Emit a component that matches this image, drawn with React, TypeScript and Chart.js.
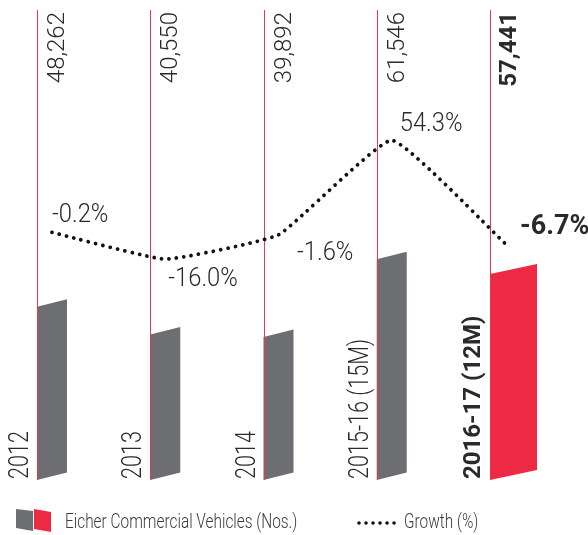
import { useEffect, useRef } from "react";
import { Chart, registerables } from "chart.js";

Chart.register(...registerables);

// ---- data ----
const categories = ["2012", "2013", "2014", "2015-16 (15M)", "2016-17 (12M)"];
const volumes = [48262, 40550, 39892, 61546, 57441];
const volumeLabels = ["48,262", "40,550", "39,892", "61,546", "57,441"];
const growth = [-0.2, -16.0, -1.6, 54.3, -6.7];
const growthLabels = ["-0.2%", "-16.0%", "-1.6%", "54.3%", "-6.7%"];
const highlightIndex = 4;
const legendLabels = ["Eicher Commercial Vehicles (Nos.)", "Growth (%)"];

// ---- styles ----
const GREY = "#6d6e71";
const RED = "#ee2944";
const LINE_RED = "#e8384f";
const TEXT = "#2a2a2a";
const FONT = "Roboto, 'Liberation Sans', sans-serif";
const growthLabelOffsets = [
  [0, -10],
  [3, 27],
  [18.5, 25],
  [8, -9],
  [15, -9],
];

function drawVertical(
  ctx: CanvasRenderingContext2D,
  text: string,
  x: number,
  y: number,
  font: string,
  align: CanvasTextAlign,
  sx = 1
) {
  ctx.save();
  ctx.translate(x, y);
  ctx.rotate(-Math.PI / 2);
  ctx.scale(sx, 1);
  ctx.font = font;
  ctx.textAlign = align;
  ctx.textBaseline = "alphabetic";
  ctx.fillStyle = TEXT;
  ctx.fillText(text, 0, 0);
  ctx.restore();
}

function drawScaled(
  ctx: CanvasRenderingContext2D,
  text: string,
  x: number,
  y: number,
  font: string,
  sx = 1,
  color = TEXT
) {
  ctx.save();
  ctx.translate(x, y);
  ctx.scale(sx, 1);
  ctx.font = font;
  ctx.textAlign = "left";
  ctx.textBaseline = "alphabetic";
  ctx.fillStyle = color;
  ctx.fillText(text, 0, 0);
  ctx.restore();
}

const eicherPlugin = {
  id: "eicherPlugin",
  beforeDatasetsDraw(chart: any) {
    const ctx: CanvasRenderingContext2D = chart.ctx;
    const area = chart.chartArea;
    const meta = chart.getDatasetMeta(0);
    meta.data.forEach((el: any, i: number) => {
      const { x, y, base } = el.getProps(["x", "y", "base"], true);
      const hi = i === highlightIndex;
      const w = hi ? 47 : 30;
      const skew = hi ? 10 : 7.5;
      const left = x - 15;
      ctx.save();
      ctx.fillStyle = hi ? RED : GREY;
      ctx.beginPath();
      ctx.moveTo(left, base);
      ctx.lineTo(left, y);
      ctx.lineTo(left + w, y - skew);
      ctx.lineTo(left + w, base - skew);
      ctx.closePath();
      ctx.fill();
      const lx = Math.round(left) + 0.5;
      ctx.strokeStyle = LINE_RED;
      ctx.lineWidth = 1;
      ctx.beginPath();
      ctx.moveTo(lx, area.top);
      ctx.lineTo(lx, base);
      ctx.stroke();
      ctx.restore();
    });
  },
  afterDatasetsDraw(chart: any) {
    const ctx: CanvasRenderingContext2D = chart.ctx;
    const area = chart.chartArea;
    const meta = chart.getDatasetMeta(0);
    meta.data.forEach((el: any, i: number) => {
      const { x, base } = el.getProps(["x", "base"], true);
      const hi = i === highlightIndex;
      const lx = Math.round(x - 15) + 0.5;
      drawVertical(
        ctx,
        volumeLabels[i],
        lx + (hi ? 25 : 26),
        area.top + 2,
        hi ? `700 24px ${FONT}` : `300 24px ${FONT}`,
        "right"
      );
      drawVertical(
        ctx,
        categories[i],
        lx - (hi ? 11 : 10),
        base - 1,
        hi ? `700 24px ${FONT}` : `300 27px ${FONT}`,
        "left",
        hi ? 1 : 0.8
      );
    });
    const lmeta = chart.getDatasetMeta(1);
    lmeta.data.forEach((pt: any, i: number) => {
      const { x, y } = pt.getProps(["x", "y"], true);
      const hi = i === highlightIndex;
      const [dx, dy] = growthLabelOffsets[i];
      drawScaled(
        ctx,
        growthLabels[i],
        x + dx,
        y + dy,
        hi ? `700 27px ${FONT}` : `300 25px ${FONT}`,
        hi ? 1 : 0.95
      );
    });
  },
  afterDraw(chart: any) {
    const ctx: CanvasRenderingContext2D = chart.ctx;
    ctx.save();
    ctx.fillStyle = GREY;
    ctx.beginPath();
    ctx.moveTo(16, 509);
    ctx.lineTo(33, 511);
    ctx.lineTo(33, 531);
    ctx.lineTo(16, 528);
    ctx.closePath();
    ctx.fill();
    ctx.fillStyle = RED;
    ctx.beginPath();
    ctx.moveTo(34, 509);
    ctx.lineTo(51, 512);
    ctx.lineTo(51, 532);
    ctx.lineTo(34, 529);
    ctx.closePath();
    ctx.fill();
    drawScaled(ctx, legendLabels[0], 65, 528, `300 20px ${FONT}`, 0.77, "#3a3a3a");
    ctx.strokeStyle = "#111";
    ctx.lineWidth = 3.6;
    ctx.lineCap = "round";
    ctx.setLineDash([0.01, 7]);
    ctx.beginPath();
    ctx.moveTo(359, 523);
    ctx.lineTo(396, 523);
    ctx.stroke();
    ctx.setLineDash([]);
    drawScaled(ctx, legendLabels[1], 404, 528, `300 20px ${FONT}`, 0.77, "#3a3a3a");
    ctx.restore();
  },
};

export default function App() {
  const ref = useRef<HTMLCanvasElement | null>(null);
  useEffect(() => {
    if (!ref.current) return;
    const chart = new Chart(ref.current, {
      type: "bar",
      data: {
        labels: categories,
        datasets: [
          {
            type: "bar",
            label: legendLabels[0],
            data: volumes,
            backgroundColor: "rgba(0,0,0,0)",
            borderWidth: 0,
            yAxisID: "y",
            order: 2,
          },
          {
            type: "line",
            label: legendLabels[1],
            data: growth,
            borderColor: "#111",
            borderWidth: 3.8,
            borderDash: [0.01, 7.5],
            borderCapStyle: "round",
            pointRadius: 0,
            tension: 0.12,
            fill: false,
            yAxisID: "y1",
            order: 1,
            clip: false,
          } as any,
        ],
      },
      options: {
        responsive: false,
        animation: false,
        layout: { padding: { left: 52, right: 83, top: 10, bottom: 55 } },
        plugins: { legend: { display: false }, tooltip: { enabled: false } },
        scales: {
          x: { type: "category", offset: false, display: false },
          y: { min: 0, max: 131000, display: false },
          y1: { min: -146.7, max: 131.4, display: false },
        },
      },
      plugins: [eicherPlugin],
    });
    return () => chart.destroy();
  }, []);
  return (
    <div style={{ position: "fixed", left: 0, top: 0, width: 588, height: 535, background: "#fff" }}>
      <canvas ref={ref} width={588} height={535} style={{ display: "block" }} />
    </div>
  );
}
